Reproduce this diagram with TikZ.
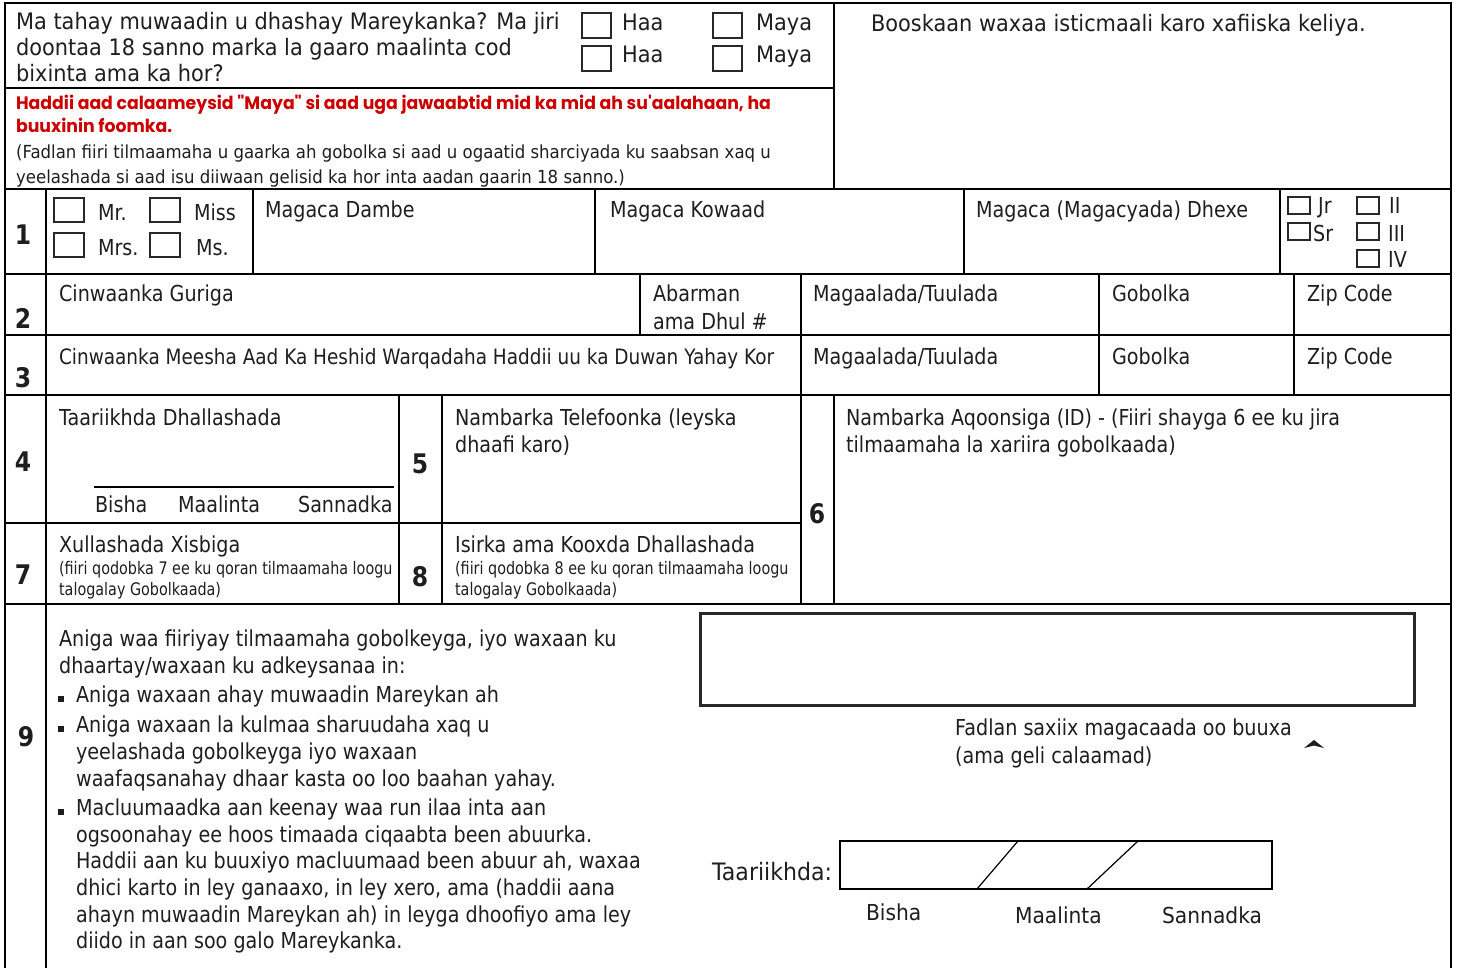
\documentclass[tikz,border=0pt]{standalone}
\usepackage{fontspec}
\setmainfont{DejaVu Sans}[FakeStretch=0.87]
\newfontfamily\widefont{DejaVu Sans}[FakeStretch=0.92]
\newfontfamily\narrowfont{DejaVu Sans}[FakeStretch=0.83]
\newfontfamily\redfont{Poppins}[FakeStretch=0.96]
\usepackage{tikz}
\usepackage{xcolor}
\definecolor{formred}{RGB}{204,0,0}
\definecolor{boxgray}{RGB}{40,40,40}
\definecolor{ink}{RGB}{30,30,30}

\begin{document}
\begin{tikzpicture}[x=1pt,y=-1pt,line width=2.2pt,
  txt/.style={anchor=base west,inner sep=0pt,text=ink,font=\fontsize{22}{26}\selectfont},
  head txt/.style={anchor=base west,inner sep=0pt,text=ink,font=\widefont\fontsize{22.7}{26}\selectfont},
  note/.style={anchor=base west,inner sep=0pt,text=ink,font=\widefont\fontsize{18}{24}\selectfont},
  small note/.style={anchor=base west,inner sep=0pt,text=ink,font=\narrowfont\fontsize{17.3}{21}\selectfont},
  red note/.style={anchor=base west,inner sep=0pt,text=formred,font=\redfont\bfseries\fontsize{18}{24}\selectfont},
  date txt/.style={anchor=base west,inner sep=0pt,text=ink,font=\widefont\fontsize{22}{26}\selectfont},
  num/.style={inner sep=0pt,text=ink,font=\bfseries\fontsize{27}{27}\selectfont},
  big check/.style={draw=boxgray,line width=2pt,inner sep=0pt,minimum width=29pt,minimum height=25pt},
  title check/.style={draw=boxgray,line width=2pt,inner sep=0pt,minimum width=30pt,minimum height=24pt},
  suffix check/.style={draw=boxgray,line width=2pt,inner sep=0pt,minimum width=22pt,minimum height=17pt},
  bullet/.style={fill=ink,inner sep=0pt,minimum size=6pt}]

  \useasboundingbox (0,0) rectangle (1460,968);

  % frame and grid
  \draw (5,968) -- (5,3) -- (1451,3) -- (1451,968);
  \draw (834,3) -- (834,189) (5,88) -- (834,88) (5,189) -- (1451,189);
  \draw (46,189) -- (46,968);
  \draw (253,189) -- (253,274) (595,189) -- (595,274) (964,189) -- (964,274) (1280,189) -- (1280,274);
  \draw (5,274) -- (1451,274) (5,335) -- (1451,335) (5,395) -- (1451,395);
  \draw (640,274) -- (640,335) (801,274) -- (801,604) (1099,274) -- (1099,395) (1294,274) -- (1294,395);
  \draw (399,395) -- (399,604) (442,395) -- (442,604) (834,395) -- (834,604);
  \draw (5,523) -- (801,523) (5,604) -- (1451,604);
  \draw[line width=2pt] (94,487) -- (394,487);

  % header
  \node[head txt] (q1) at (15,30) {Ma tahay muwaadin u dhashay Mareykanka? Ma jiri};
  \node[head txt] (q2) at (15,56) {doontaa 18 sanno marka la gaaro maalinta cod};
  \node[head txt] (q3) at (15,82) {bixinta ama ka hor?};
  \node[big check] (haa1) at (596.5,25.5) {};
  \node[big check] (maya1) at (727,25.5) {};
  \node[big check] (haa2) at (596.5,59) {};
  \node[big check] (maya2) at (727,59) {};
  \node[head txt] (haa1 lbl) at (621,31) {Haa};
  \node[head txt] (maya1 lbl) at (755,31) {Maya};
  \node[head txt] (haa2 lbl) at (621,63) {Haa};
  \node[head txt] (maya2 lbl) at (755,63) {Maya};
  \node[red note] (warn1) at (15,110) {Haddii aad calaameysid "Maya" si aad uga jawaabtid mid ka mid ah su'aalahaan, ha};
  \node[red note] (warn2) at (15,133) {buuxinin foomka.};
  \node[note] (info1) at (15,159) {(Fadlan fiiri tilmaamaha u gaarka ah gobolka si aad u ogaatid sharciyada ku saabsan xaq u};
  \node[note] (info2) at (15,184) {yeelashada si aad isu diiwaan gelisid ka hor inta aadan gaarin 18 sanno.)};
  \node[head txt] (office) at (870,32) {Booskaan waxaa isticmaali karo xafiiska keliya.};

  % row 1
  \node[num] (n1) at (23,235) {1};
  \node[title check] (mr) at (69,210) {};
  \node[title check] (miss) at (164.5,210) {};
  \node[title check] (mrs) at (69,245) {};
  \node[title check] (ms) at (164.5,245) {};
  \node[txt] (mr lbl) at (97,221) {Mr.};
  \node[txt] (miss lbl) at (193,221) {Miss};
  \node[txt] (mrs lbl) at (97,256) {Mrs.};
  \node[txt] (ms lbl) at (195,256) {Ms.};
  \node[txt] (last) at (264,218) {Magaca Dambe};
  \node[txt] (first) at (609,218) {Magaca Kowaad};
  \node[txt] (middle) at (975,218) {Magaca (Magacyada) Dhexe};
  \node[suffix check] (jr) at (1298.5,205.5) {};
  \node[suffix check] (sr) at (1298.5,232) {};
  \node[suffix check] (ii) at (1367.5,205.5) {};
  \node[suffix check] (iii) at (1367.5,232) {};
  \node[suffix check] (iv) at (1367.5,258.5) {};
  \node[txt] (jr lbl) at (1317,214) {Jr};
  \node[txt] (sr lbl) at (1312,242) {Sr};
  \node[txt] (ii lbl) at (1388,214) {II};
  \node[txt] (iii lbl) at (1387,242) {III};
  \node[txt] (iv lbl) at (1387,268) {IV};

  % rows 2 and 3
  \node[num] (n2) at (23,318) {2};
  \node[txt] (home) at (58,302) {Cinwaanka Guriga};
  \node[txt] (apt1) at (652,302) {Abarman};
  \node[txt] (apt2) at (652,330) {ama Dhul \#};
  \node[txt] (city2) at (812,302) {Magaalada/Tuulada};
  \node[txt] (state2) at (1111,302) {Gobolka};
  \node[txt] (zip2) at (1306,302) {Zip Code};
  \node[num] (n3) at (23,378) {3};
  \node[txt,font=\fontsize{21.2}{26}\selectfont] (mail) at (58,365) {Cinwaanka Meesha Aad Ka Heshid Warqadaha Haddii uu ka Duwan Yahay Kor};
  \node[txt] (city3) at (812,365) {Magaalada/Tuulada};
  \node[txt] (state3) at (1111,365) {Gobolka};
  \node[txt] (zip3) at (1306,365) {Zip Code};

  % rows 4 to 8
  \node[num] (n4) at (23,462) {4};
  \node[txt] (birth) at (58,425) {Taariikhda Dhallashada};
  \node[txt] (bmonth) at (94,512) {Bisha};
  \node[txt] (bday) at (177,512) {Maalinta};
  \node[txt] (byear) at (297,512) {Sannadka};
  \node[num] (n5) at (420,464) {5};
  \node[txt] (phone1) at (454,425) {Nambarka Telefoonka (leyska};
  \node[txt] (phone2) at (454,453) {dhaafi karo)};
  \node[num] (n6) at (817,514) {6};
  \node[txt] (id1) at (845,425) {Nambarka Aqoonsiga (ID) - (Fiiri shayga 6 ee ku jira};
  \node[txt] (id2) at (845,453) {tilmaamaha la xariira gobolkaada)};
  \node[num] (n7) at (23,575) {7};
  \node[txt] (party) at (58,552) {Xullashada Xisbiga};
  \node[small note] (party1) at (58,574) {(fiiri qodobka 7 ee ku qoran tilmaamaha loogu};
  \node[small note] (party2) at (58,595) {talogalay Gobolkaada)};
  \node[num] (n8) at (420,577) {8};
  \node[txt] (race) at (454,552) {Isirka ama Kooxda Dhallashada};
  \node[small note] (race1) at (454,574) {(fiiri qodobka 8 ee ku qoran tilmaamaha loogu};
  \node[small note] (race2) at (454,595) {talogalay Gobolkaada)};

  % row 9
  \node[num] (n9) at (26,737) {9};
  \node[txt] (oath1) at (58,646) {Aniga waa fiiriyay tilmaamaha gobolkeyga, iyo waxaan ku};
  \node[txt] (oath2) at (58,673) {dhaartay/waxaan ku adkeysanaa in:};
  \node[bullet] (b1) at (61,699) {};
  \node[bullet] (b2) at (61,729) {};
  \node[bullet] (b3) at (61,812) {};
  \foreach \y/\t [count=\i] in {702/{Aniga waxaan ahay muwaadin Mareykan ah},
      732/{Aniga waxaan la kulmaa sharuudaha xaq u},
      759/{yeelashada gobolkeyga iyo waxaan},
      786/{waafaqsanahay dhaar kasta oo loo baahan yahay.},
      815/{Macluumaadka aan keenay waa run ilaa inta aan},
      842/{ogsoonahay ee hoos timaada ciqaabta been abuurka.},
      868/{Haddii aan ku buuxiyo macluumaad been abuur ah, waxaa},
      895/{dhici karto in ley ganaaxo, in ley xero, ama (haddii aana},
      922/{ahayn muwaadin Mareykan ah) in leyga dhoofiyo ama ley},
      948/{diido in aan soo galo Mareykanka.}}
    \node[txt] (item\i) at (75,\y) {\t};

  \draw[draw=boxgray,line width=3pt] (700,613) rectangle (1414,705);
  \node[txt] (sign1) at (954,735) {Fadlan saxiix magacaada oo buuxa};
  \node[txt] (sign2) at (954,763) {(ama geli calaamad)};
  \fill[ink] (1304,748) -- (1314,740) -- (1324,748) -- (1314,745.5) -- cycle;
  \node[date txt,font=\widefont\fontsize{24}{26}\selectfont] (date) at (711,880) {Taariikhda:};
  \draw[line width=2pt] (840,841) rectangle (1272,889);
  \draw[line width=1.2pt] (977,889) -- (1018,841) (1087,889) -- (1138,841);
  \node[date txt] (dmonth) at (865,920) {Bisha};
  \node[date txt] (dday) at (1014,923) {Maalinta};
  \node[date txt] (dyear) at (1161,923) {Sannadka};
\end{tikzpicture}
\end{document}
